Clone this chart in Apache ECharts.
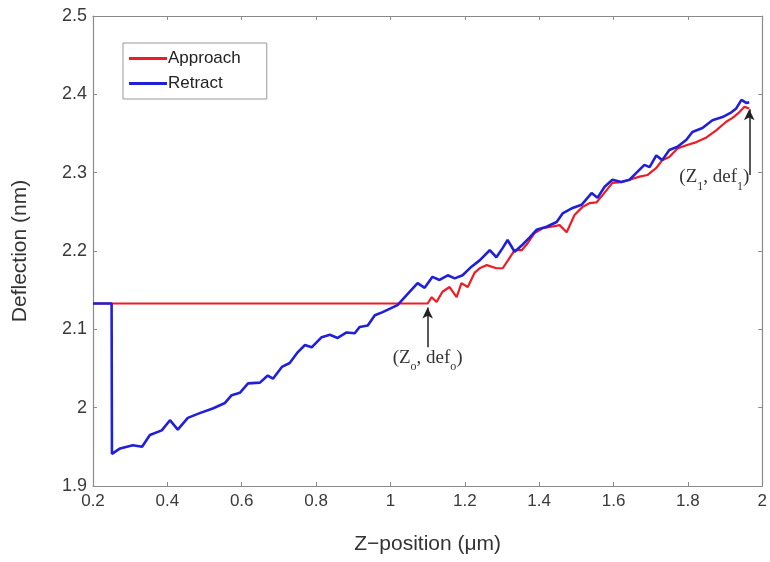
<!DOCTYPE html>
<html>
<head>
<meta charset="utf-8">
<script src="https://cdn.jsdelivr.net/npm/echarts@6/dist/echarts.min.js"></script>
<style>
  html, body { margin: 0; padding: 0; background: #fff; }
  #chart { width: 770px; height: 562px; }
</style>
</head>
<body>
<div id="chart"></div>
<script>
// Approach 曲线 (Z, deflection)
const approachZ = [0.2, 1.1, 1.111, 1.124, 1.14, 1.159, 1.178, 1.191, 1.208, 1.226, 1.24, 1.259, 1.285, 1.302, 1.32, 1.334, 1.353, 1.369, 1.388, 1.409, 1.433, 1.455, 1.474, 1.495, 1.516, 1.535, 1.554, 1.57, 1.597, 1.621, 1.643, 1.67, 1.691, 1.715, 1.731, 1.75, 1.772, 1.796, 1.823, 1.85, 1.876, 1.903, 1.92, 1.938, 1.952, 1.965];
const approachDef = [2.133, 2.133, 2.141, 2.135, 2.148, 2.154, 2.141, 2.159, 2.154, 2.172, 2.178, 2.182, 2.178, 2.178, 2.191, 2.201, 2.201, 2.21, 2.223, 2.229, 2.231, 2.233, 2.224, 2.246, 2.256, 2.261, 2.262, 2.271, 2.287, 2.288, 2.291, 2.295, 2.297, 2.306, 2.316, 2.32, 2.331, 2.335, 2.339, 2.345, 2.354, 2.365, 2.37, 2.377, 2.384, 2.382];

// Retract 曲线
const retractZ = [0.2, 0.25, 0.251, 0.273, 0.307, 0.332, 0.353, 0.385, 0.407, 0.428, 0.455, 0.487, 0.522, 0.555, 0.573, 0.595, 0.617, 0.649, 0.67, 0.684, 0.708, 0.729, 0.751, 0.77, 0.788, 0.815, 0.837, 0.858, 0.882, 0.904, 0.917, 0.939, 0.958, 0.979, 1.006, 1.019, 1.044, 1.073, 1.092, 1.113, 1.132, 1.154, 1.173, 1.194, 1.218, 1.24, 1.267, 1.285, 1.302, 1.315, 1.334, 1.355, 1.374, 1.393, 1.42, 1.447, 1.463, 1.49, 1.514, 1.541, 1.557, 1.576, 1.597, 1.621, 1.643, 1.662, 1.683, 1.697, 1.715, 1.731, 1.75, 1.772, 1.796, 1.812, 1.839, 1.866, 1.893, 1.917, 1.93, 1.944, 1.957, 1.965];
const retractDef = [2.133, 2.133, 1.941, 1.948, 1.952, 1.95, 1.965, 1.971, 1.984, 1.972, 1.987, 1.993, 1.999, 2.006, 2.016, 2.019, 2.031, 2.032, 2.041, 2.037, 2.052, 2.057, 2.071, 2.08, 2.077, 2.09, 2.093, 2.089, 2.096, 2.095, 2.103, 2.105, 2.118, 2.122, 2.128, 2.131, 2.144, 2.159, 2.153, 2.167, 2.163, 2.169, 2.165, 2.169, 2.18, 2.188, 2.201, 2.192, 2.204, 2.214, 2.199, 2.208, 2.217, 2.227, 2.231, 2.237, 2.248, 2.255, 2.259, 2.274, 2.268, 2.282, 2.291, 2.288, 2.291, 2.3, 2.31, 2.307, 2.322, 2.316, 2.329, 2.333, 2.342, 2.352, 2.357, 2.367, 2.371, 2.377, 2.382, 2.393, 2.389, 2.39];

// 标注箭头: [z, 起点def, 终点def]
const arrow0 = [1.1, 2.077, 2.128];
const arrow1 = [1.965, 2.297, 2.381];
// 标注文字位置
const label0 = [1.1, 2.064];
const label1 = [1.871, 2.294];

const xTicks = [0.2, 2, 0.2];   // min, max, interval
const yTicks = [1.9, 2.5, 0.1];

const toPairs = (xs, ys) => xs.map((x, i) => [x, ys[i]]);

const chart = echarts.init(document.getElementById('chart'));

const richText = {
  t: { fontFamily: 'Liberation Serif', fontSize: 19, color: '#333' },
  s: { fontFamily: 'Liberation Serif', fontSize: 12, color: '#333', verticalAlign: 'bottom', lineHeight: 30 }
};

const axisCommon = {
  axisLine: { show: true, lineStyle: { color: '#8a8a8a', width: 1.2 } },
  axisTick: { show: true, inside: true, length: 4, lineStyle: { color: '#8a8a8a' } },
  splitLine: { show: false }
};

const option = {
  animation: false,
  backgroundColor: '#fff',
  grid: { left: 93, right: 7, top: 16, bottom: 76, containLabel: false },
  legend: {
    left: 123, top: 43,
    orient: 'vertical',
    itemWidth: 38, itemHeight: 3, itemGap: 8,
    icon: 'rect',
    padding: [7, 26, 7, 6],
    borderColor: '#999', borderWidth: 1,
    textStyle: { fontFamily: 'Liberation Sans', fontSize: 17, color: '#222', padding: [0, 0, 0, -4] },
    data: ['Approach', 'Retract']
  },
  xAxis: [
    Object.assign({
      type: 'value', min: xTicks[0], max: xTicks[1], interval: xTicks[2],
      name: 'Z\u2212position (\u03bcm)', nameLocation: 'middle', nameGap: 48,
      nameTextStyle: { fontFamily: 'Liberation Sans', fontSize: 21, color: '#333' },
      axisLabel: { fontFamily: 'Liberation Sans', fontSize: 17, color: '#3a3a3a', margin: 7 }
    }, axisCommon),
    Object.assign({
      type: 'value', position: 'top', min: xTicks[0], max: xTicks[1], interval: xTicks[2],
      axisLabel: { show: false }
    }, axisCommon)
  ],
  yAxis: [
    Object.assign({
      type: 'value', min: yTicks[0], max: yTicks[1], interval: yTicks[2],
      name: 'Deflection (nm)', nameLocation: 'middle', nameGap: 62, nameRotate: 90,
      nameTextStyle: { fontFamily: 'Liberation Sans', fontSize: 21, color: '#333' },
      axisLabel: { fontFamily: 'Liberation Sans', fontSize: 18, color: '#3a3a3a', margin: 6 }
    }, axisCommon),
    Object.assign({
      type: 'value', position: 'right', min: yTicks[0], max: yTicks[1], interval: yTicks[2],
      axisLabel: { show: false }
    }, axisCommon)
  ],
  series: [
    {
      name: 'Approach', type: 'line', showSymbol: false,
      data: toPairs(approachZ, approachDef),
      lineStyle: { color: '#ee1c24', width: 2.2 },
      itemStyle: { color: '#ee1c24' },
      z: 2
    },
    {
      name: 'Retract', type: 'line', showSymbol: false,
      data: toPairs(retractZ, retractDef),
      lineStyle: { color: '#2020d8', width: 2.6 },
      itemStyle: { color: '#2020d8' },
      z: 3,
      markLine: {
        silent: true,
        symbol: ['none', 'arrow'], symbolSize: [8, 11],
        lineStyle: { color: '#222', type: 'solid', width: 1.5 },
        label: { show: false },
        data: [
          [{ coord: [arrow0[0], arrow0[1]] }, { coord: [arrow0[0], arrow0[2]] }],
          [{ coord: [arrow1[0], arrow1[1]] }, { coord: [arrow1[0], arrow1[2]] }]
        ]
      },
      markPoint: {
        silent: true,
        symbol: 'circle', symbolSize: 0,
        label: { show: true, position: 'inside', rich: richText },
        data: [
          { coord: label0, label: { formatter: '{t|(Z}{s|o}{t|, def}{s|o}{t|)}' } },
          { coord: label1, label: { formatter: '{t|(Z}{s|1}{t|, def}{s|1}{t|)}' } }
        ]
      }
    }
  ]
};

chart.setOption(option);
</script>
</body>
</html>
